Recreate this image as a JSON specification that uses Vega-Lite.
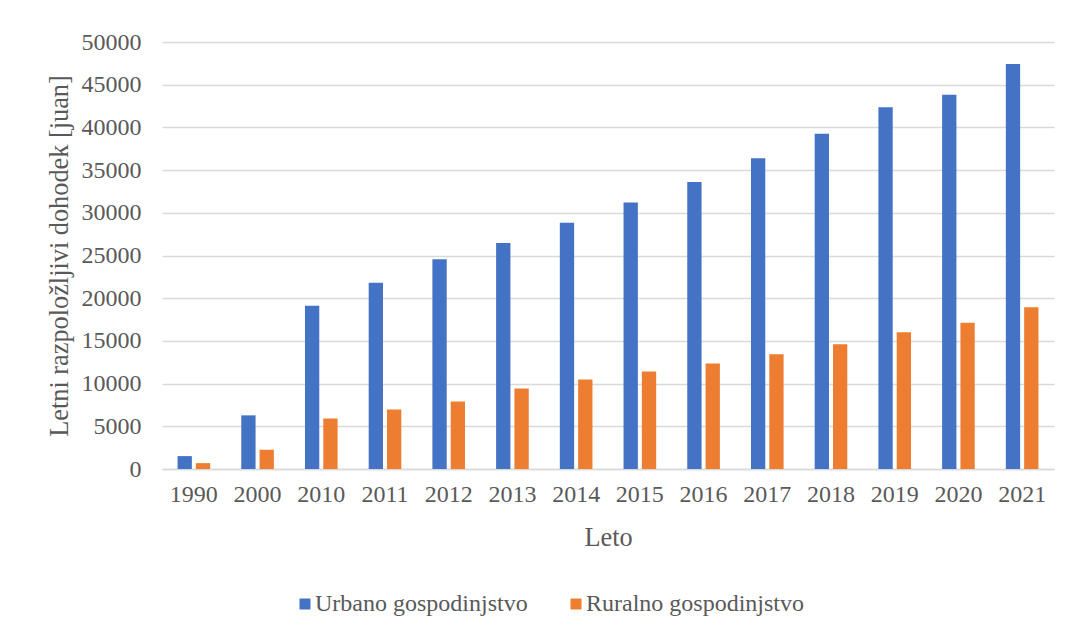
{
  "$schema": "https://vega.github.io/schema/vega-lite/v6.json",
  "autosize": {"type": "none"},
  "width": 892,
  "height": 427,
  "padding": {"left": 162, "top": 42, "right": 13, "bottom": 163},
  "background": "white",
  "config": {
    "view": {"stroke": null},
    "font": "Liberation Serif",
    "axis": {"labelFont": "Liberation Serif", "titleFont": "Liberation Serif", "labelColor": "#595959", "titleColor": "#595959", "titleFontWeight": "normal", "labelFontSize": 24, "titleFontSize": 26.3},
    "legend": {"labelFont": "Liberation Serif", "labelColor": "#595959", "labelFontSize": 24, "labelLimit": 0}
  },
  "data": {
    "values": [
      {"leto": "1990", "vrsta": "Urbano gospodinjstvo", "dohodek": 1510},
      {"leto": "1990", "vrsta": "Ruralno gospodinjstvo", "dohodek": 686},
      {"leto": "2000", "vrsta": "Urbano gospodinjstvo", "dohodek": 6280},
      {"leto": "2000", "vrsta": "Ruralno gospodinjstvo", "dohodek": 2253},
      {"leto": "2010", "vrsta": "Urbano gospodinjstvo", "dohodek": 19109},
      {"leto": "2010", "vrsta": "Ruralno gospodinjstvo", "dohodek": 5919},
      {"leto": "2011", "vrsta": "Urbano gospodinjstvo", "dohodek": 21810},
      {"leto": "2011", "vrsta": "Ruralno gospodinjstvo", "dohodek": 6977},
      {"leto": "2012", "vrsta": "Urbano gospodinjstvo", "dohodek": 24565},
      {"leto": "2012", "vrsta": "Ruralno gospodinjstvo", "dohodek": 7917},
      {"leto": "2013", "vrsta": "Urbano gospodinjstvo", "dohodek": 26467},
      {"leto": "2013", "vrsta": "Ruralno gospodinjstvo", "dohodek": 9430},
      {"leto": "2014", "vrsta": "Urbano gospodinjstvo", "dohodek": 28844},
      {"leto": "2014", "vrsta": "Ruralno gospodinjstvo", "dohodek": 10489},
      {"leto": "2015", "vrsta": "Urbano gospodinjstvo", "dohodek": 31195},
      {"leto": "2015", "vrsta": "Ruralno gospodinjstvo", "dohodek": 11422},
      {"leto": "2016", "vrsta": "Urbano gospodinjstvo", "dohodek": 33616},
      {"leto": "2016", "vrsta": "Ruralno gospodinjstvo", "dohodek": 12363},
      {"leto": "2017", "vrsta": "Urbano gospodinjstvo", "dohodek": 36396},
      {"leto": "2017", "vrsta": "Ruralno gospodinjstvo", "dohodek": 13432},
      {"leto": "2018", "vrsta": "Urbano gospodinjstvo", "dohodek": 39251},
      {"leto": "2018", "vrsta": "Ruralno gospodinjstvo", "dohodek": 14617},
      {"leto": "2019", "vrsta": "Urbano gospodinjstvo", "dohodek": 42359},
      {"leto": "2019", "vrsta": "Ruralno gospodinjstvo", "dohodek": 16021},
      {"leto": "2020", "vrsta": "Urbano gospodinjstvo", "dohodek": 43834},
      {"leto": "2020", "vrsta": "Ruralno gospodinjstvo", "dohodek": 17131},
      {"leto": "2021", "vrsta": "Urbano gospodinjstvo", "dohodek": 47412},
      {"leto": "2021", "vrsta": "Ruralno gospodinjstvo", "dohodek": 18931}
    ]
  },
  "mark": {"type": "bar"},
  "encoding": {
    "x": {
      "field": "leto",
      "type": "nominal",
      "sort": null,
      "scale": {"paddingInner": 0.488, "paddingOuter": 0.244},
      "axis": {
        "title": "Leto",
        "labelAngle": 0,
        "ticks": false,
        "domain": true,
        "domainColor": "#d9d9d9",
        "domainWidth": 1.5,
        "labelPadding": 13,
        "titleY": 68,
        "titleBaseline": "middle",
        "grid": false
      }
    },
    "xOffset": {
      "field": "vrsta",
      "type": "nominal",
      "sort": ["Urbano gospodinjstvo", "Ruralno gospodinjstvo"],
      "scale": {"paddingInner": 0.219, "paddingOuter": 0}
    },
    "y": {
      "field": "dohodek",
      "type": "quantitative",
      "scale": {"domain": [0, 50000], "nice": false},
      "axis": {
        "title": "Letni razpoložljivi dohodek [juan]",
        "values": [0, 5000, 10000, 15000, 20000, 25000, 30000, 35000, 40000, 45000, 50000],
        "format": "d",
        "ticks": false,
        "domain": false,
        "grid": true,
        "gridColor": "#d9d9d9",
        "gridWidth": 1.5,
        "labelPadding": 21,
        "titleX": -103,
        "titleBaseline": "middle"
      }
    },
    "color": {
      "field": "vrsta",
      "type": "nominal",
      "sort": ["Urbano gospodinjstvo", "Ruralno gospodinjstvo"],
      "scale": {"domain": ["Urbano gospodinjstvo", "Ruralno gospodinjstvo"], "range": ["#4472C4", "#ED7D31"]},
      "legend": {
        "title": null,
        "orient": "none",
        "direction": "horizontal",
        "legendX": 131,
        "legendY": 550,
        "symbolType": "square",
        "symbolSize": 121,
        "symbolStrokeWidth": 0,
        "labelFont": "Liberation Serif",
        "labelFontSize": 24,
        "labelColor": "#595959",
        "labelLimit": 0,
        "labelOffset": -2,
        "columnPadding": 36
      }
    }
  }
}
